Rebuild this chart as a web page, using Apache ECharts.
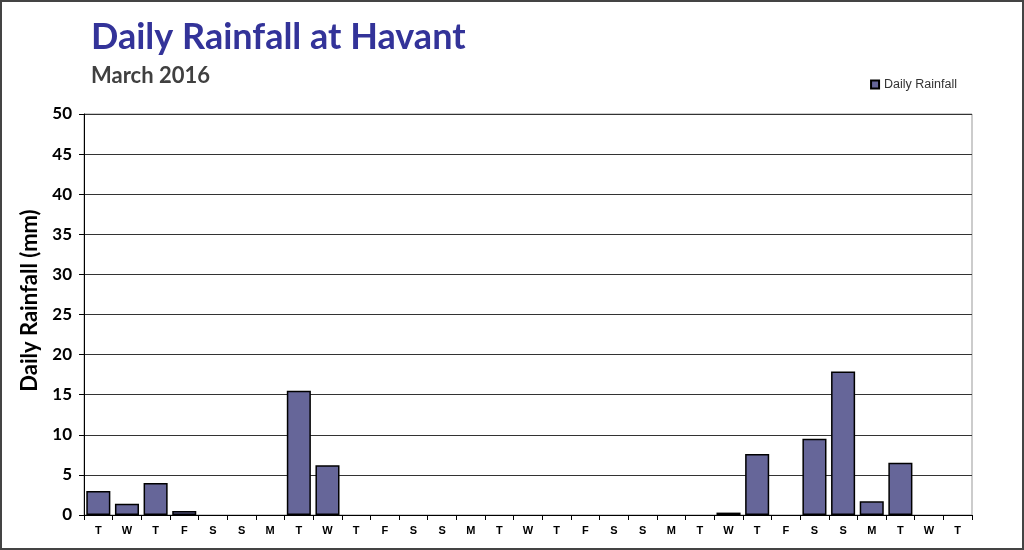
<!DOCTYPE html>
<html>
<head>
<meta charset="utf-8">
<script src="https://cdn.jsdelivr.net/npm/echarts@6/dist/echarts.min.js"></script>
<style>
  html, body { margin: 0; padding: 0; background: #fff; }
  #chart { width: 1024px; height: 550px; box-sizing: border-box; border: 2px solid #444; }
</style>
</head>
<body>
<div id="chart"></div>
<script>
var days = ['T', 'W', 'T', 'F', 'S', 'S', 'M', 'T', 'W', 'T', 'F', 'S', 'S', 'M', 'T', 'W',
    'T', 'F', 'S', 'S', 'M', 'T', 'W', 'T', 'F', 'S', 'S', 'M', 'T', 'W', 'T'];
var rainfall = [3.0, 1.4, 4.0, 0.5, 0, 0, 0, 15.5, 6.2, 0, 0, 0, 0, 0, 0, 0,
    0, 0, 0, 0, 0, 0, 0.3, 7.6, 0, 9.5, 17.9, 1.7, 6.5, 0, 0];

var myChart = echarts.init(document.getElementById('chart'), null, { renderer: 'canvas' });

// dry days: no outline, so nothing shows on the axis
var barData = rainfall.map(function (v) {
    return v === 0 ? { value: v, itemStyle: { borderWidth: 0 } } : v;
});

var option = {
    backgroundColor: '#fff',
    animation: false,
    title: [
        {
            text: 'Daily Rainfall at Havant',
            left: 84,
            top: 12,
            textStyle: { fontFamily: 'Lato', fontWeight: 'bold', fontSize: 36, color: '#333399' }
        },
        {
            text: 'March 2016',
            left: 84,
            top: 58,
            textStyle: { fontFamily: 'Lato', fontWeight: 'bold', fontSize: 22, color: '#404040' }
        }
    ],
    legend: {
        right: 60,
        top: 71,
        itemWidth: 8,
        itemHeight: 8,
        icon: 'rect',
        textStyle: { fontFamily: 'Liberation Sans', fontSize: 12.5, color: '#333' },
        data: ['Daily Rainfall']
    },
    grid: {
        left: 82,
        right: 50,
        top: 112,
        bottom: 33,
        show: true,
        borderColor: '#999',
        borderWidth: 1
    },
    xAxis: {
        type: 'category',
        data: days,
        axisLine: { lineStyle: { color: '#000', width: 1 } },
        axisTick: { show: true, alignWithLabel: false, length: 5, lineStyle: { color: '#000' } },
        axisLabel: { fontFamily: 'Liberation Sans', fontWeight: 'bold', fontSize: 11, color: '#000', margin: 10, interval: 0 }
    },
    yAxis: {
        type: 'value',
        min: 0,
        max: 50,
        interval: 5,
        name: 'Daily Rainfall (mm)',
        nameLocation: 'middle',
        nameGap: 42,
        nameTextStyle: { fontFamily: 'Lato', fontWeight: 'bold', fontSize: 22, color: '#000', padding: [0, 0, 0, 28] },
        axisLine: { show: true, lineStyle: { color: '#000', width: 1 } },
        axisTick: { show: true, length: 5, lineStyle: { color: '#000' } },
        axisLabel: { fontFamily: 'Lato', fontWeight: 'bold', fontSize: 17, color: '#000', margin: 12 },
        splitLine: { show: true, lineStyle: { color: '#333', width: 1 } }
    },
    series: [
        {
            name: 'Daily Rainfall',
            type: 'bar',
            data: barData,
            barCategoryGap: '16%',
            itemStyle: { color: '#666699', borderColor: '#000', borderWidth: 1.5 }
        }
    ]
};

myChart.setOption(option);
window.addEventListener('resize', function () {
    myChart.resize();
});
</script>
</body>
</html>
